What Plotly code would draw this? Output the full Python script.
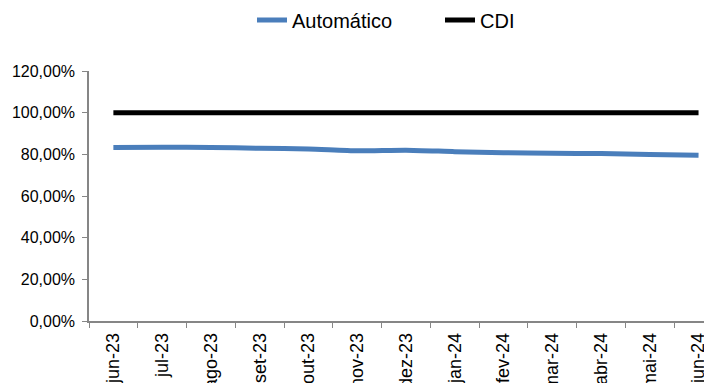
import plotly.graph_objects as go

categories = ["jun-23", "jul-23", "ago-23", "set-23", "out-23", "nov-23", "dez-23",
              "jan-24", "fev-24", "mar-24", "abr-24", "mai-24", "jun-24"]
automatico = [83.3, 83.4, 83.3, 82.9, 82.6, 81.7, 82.0, 81.3, 80.8, 80.5, 80.4, 79.9, 79.6]
cdi = [100.0] * 13
y_ticks = [0, 20, 40, 60, 80, 100, 120]
y_tick_labels = ["0,00%", "20,00%", "40,00%", "60,00%", "80,00%", "100,00%", "120,00%"]

FONT = "Liberation Sans, Arial, sans-serif"

fig = go.Figure()
fig.add_trace(go.Scatter(x=categories, y=automatico, name="Automático", mode="lines",
                         line=dict(color="#4a7ebb", width=5, shape="spline", smoothing=0.6)))
fig.add_trace(go.Scatter(x=categories, y=cdi, name="CDI", mode="lines",
                         line=dict(color="#000000", width=5)))

fig.update_layout(
    width=712, height=383,
    margin=dict(l=81, r=0, t=63, b=69.5, autoexpand=False),
    paper_bgcolor="white", plot_bgcolor="white",
    font=dict(family=FONT, color="#000000"),
    showlegend=True,
    legend=dict(orientation="h", xref="container", x=244 / 712, xanchor="left",
                yref="container", y=1 - 12 / 383, yanchor="middle",
                font=dict(size=20, family=FONT), bgcolor="rgba(0,0,0,0)",
                itemwidth=30, entrywidth=143, traceorder="normal"),
    xaxis=dict(type="category", range=[-0.5, 12.44], tickson="boundaries",
               ticks="outside", ticklen=5, tickcolor="#868686", tickwidth=1,
               showline=True, linecolor="#868686", linewidth=1.5,
               showgrid=False, zeroline=False, tickangle=-90, automargin=False,
               ticklabelstandoff=3,
               tickfont=dict(size=18, family=FONT, color="#000000")),
    yaxis=dict(range=[0, 120], tickvals=y_ticks, ticktext=y_tick_labels,
               ticks="outside", ticklen=5, tickcolor="#868686", tickwidth=1,
               showline=True, linecolor="#868686", linewidth=1.5,
               showgrid=False, zeroline=False, automargin=False,
               ticklabelstandoff=4,
               tickfont=dict(size=16, family=FONT, color="#000000")),
)

fig.write_html("out.html")
